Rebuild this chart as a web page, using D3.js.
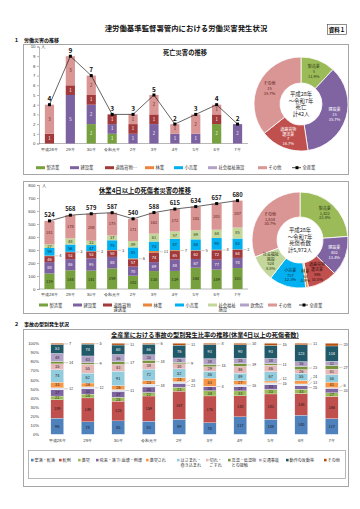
<!DOCTYPE html>
<html><head><meta charset="utf-8">
<script src="https://cdn.jsdelivr.net/npm/d3@7"></script>
<style>
html,body{margin:0;padding:0;background:#fff;}
svg{display:block;font-family:"Noto Sans CJK JP","Noto Sans",sans-serif;}
</style></head><body>
<svg id="c" width="360" height="509"></svg>
<script>
// ---------- DATA ----------
const years = ['平成28年','29年','30年','令和元年','2年','3年','4年','5年','6年','7年'];

// Chart 1: deaths by industry
const deathMfg     = [0,0,2,1,0,0,0,0,2,0];
const deathCon     = [0,5,2,1,1,2,1,1,0,2];
const deathRoad    = [1,1,1,1,1,1,0,0,1,0];
const deathOther   = [3,3,2,0,1,2,1,2,1,0];
const deathTotal   = [4,9,7,3,3,5,2,3,4,2];
const legend1 = ['製造業','建設業','道路貨物…','林業','小売業','社会福祉施設','その他'];

// Pie 1 (H28 - R7 deaths)
const pie1Names  = ['製造業','建設業','道路貨物運送業','その他'];
const pie1Values = [5,15,7,15];

// Chart 2: injuries (4+ days lost)
const injMfg     = [119,144,141,159,102,138,139,164,149,161];
const injCon     = [88,86,95,88,70,69,88,67,77,78];
const injRoad    = [46,53,53,50,57,74,65,62,72,64];
const injForest  = [4,3,2,3,6,11,7,5,4,2];
const injRetail  = [59,56,47,75,85,73,87,84,90,83];
const injWelfare = [27,48,33,37,49,61,57,69,64,85];
const injOther   = [181,178,208,175,171,162,172,183,201,207];
const injTotal   = [524,568,579,587,540,588,615,634,657,680];
const legend2 = ['製造業','建設業','道路貨物運送業','林業','小売業','社会福祉施設','飲食店','その他'];

// Pie 2
const pie2Names  = ['製造業','建設業','道路貨物運送業','林業','小売業','社会福祉施設','その他'];
const pie2Values = [1422,802,596,53,737,528,1834];

// Chart 3: accident types
const typeNames = ['墜落・転落','転倒','激突','飛来・落下','崩壊・倒壊','激突され','はさまれ・巻き込まれ','切れ・こすれ','高温・低温物との接触','交通事故','動作の反動等','その他'];
const tFall     = [96,78,85,83,89,76,117,108,140,117];
const tTrip     = [109,149,125,159,167,176,140,181,158,166];
const tCollide  = [22,24,25,22,23,34,33,33,33,27];
const tFlying   = [37,33,37,35,23,26,27,33,25,33];
const tCollapse = [12,12,11,18,10,4,15,15,13,6];
const tStruck   = [33,24,26,23,24,53,27,12,24,41];
const tCaught   = [74,62,91,72,52,46,49,67,55,56];
const tCut      = [35,55,43,38,30,29,46,46,26,41];
const tTemp     = [14,9,17,18,9,15,19,11,23,27];
const tTraffic  = [48,43,46,35,26,38,35,38,36,32];
const tMotion   = [53,74,60,66,76,93,90,93,123,114];
const tOther    = [7,5,11,6,11,8,10,15,11,20];

// ---------- STYLE ----------
const col = {mfg:'#77a03f', con:'#7d62a1', road:'#a2393b', forest:'#e9853c', retail:'#00b0f0',
  welfare1:'#b3a2c7', welfare2:'#c4d79b', food:'#b3a2c7', other:'#d99694'};
const pieCol1 = ['#9bbb59','#8064a2','#c0504d','#d99694'];
const pieCol2 = ['#9bbb59','#8064a2','#c0504d','#f79646','#00b0f0','#c3d69b','#d99694'];
const typeCol = ['#4f81bd','#c0504d','#9bbb59','#8064a2','#dce6f2','#f79646','#93cddd','#e6b9b8','#77933c','#b3a2c7','#215968','#b7520e'];

const svg = d3.select('#c');
svg.append('rect').attr('width',360).attr('height',509).attr('fill','#fff');

// Header
svg.append('text').attr('x',186).attr('y',31).attr('text-anchor','middle')
  .attr('font-size',7.4).attr('font-weight','bold').attr('fill','#111')
  .text('津労働基準監督署管内における労働災害発生状況');
svg.append('rect').attr('x',327.5).attr('y',24.5).attr('width',19).attr('height',10)
  .attr('fill','none').attr('stroke','#444').attr('stroke-width',0.6);
svg.append('text').attr('x',337).attr('y',32).attr('text-anchor','middle')
  .attr('font-size',5.5).attr('font-weight','bold').text('資料１');
svg.append('text').attr('x',14).attr('y',41.5).attr('font-size',5).attr('font-weight','bold').text('１');
svg.append('text').attr('x',24).attr('y',41.5).attr('font-size',5).attr('font-weight','bold').text('労働災害の推移');
svg.append('text').attr('x',14).attr('y',325.5).attr('font-size',5).attr('font-weight','bold').text('２');
svg.append('text').attr('x',24).attr('y',325.5).attr('font-size',5).attr('font-weight','bold').text('事故の型別発生状況');

// Panels
function panel(x,y,w,h){
  svg.append('rect').attr('x',x).attr('y',y).attr('width',w).attr('height',h)
    .attr('fill','#fff').attr('stroke','#a6a6a6').attr('stroke-width',1);
}
panel(23.5,44.5,325,130);
panel(23.5,181.5,325,132);
panel(23.5,329.5,325,157);

// ---------- CHART 1 ----------
(function(){
  const x = d3.scaleBand().domain(years).range([39,248]).paddingInner(0.56).paddingOuter(0.28);
  const y = d3.scaleLinear().domain([0,10]).range([143.5,46.5]);
  const keys = ['mfg','con','road','other'];
  const rows = years.map((yr,i)=>({yr, mfg:deathMfg[i], con:deathCon[i], road:deathRoad[i], other:deathOther[i]}));
  const stack = d3.stack().keys(keys)(rows);
  const colors = {mfg:col.mfg, con:col.con, road:col.road, other:col.other};
  const ax = svg.append('g').attr('transform','translate(39,0)')
    .call(d3.axisLeft(y).ticks(10).tickSize(2).tickPadding(1.5));
  ax.selectAll('text').attr('font-size',4.3).attr('fill','#333');
  ax.selectAll('line,path').attr('stroke','#888').attr('stroke-width',0.6);
  svg.append('text').attr('x',41).attr('y',48).attr('font-size',4.3).attr('fill','#333').text('人');
  const bx = svg.append('g').attr('transform','translate(0,143.5)').call(d3.axisBottom(x).tickSize(0).tickPadding(4));
  bx.selectAll('text').attr('font-size',4.3).attr('fill','#333');
  bx.select('.domain').attr('stroke','#888').attr('stroke-width',0.6).attr('d','M39,0H248');
  stack.forEach(s=>{
    const g = svg.append('g');
    s.forEach((d,i)=>{
      const v = d[1]-d[0]; if(!v) return;
      g.append('rect').attr('x',x(years[i])).attr('width',x.bandwidth())
        .attr('y',y(d[1])).attr('height',y(d[0])-y(d[1])).attr('fill',colors[s.key]);
      g.append('text').attr('x',x(years[i])+x.bandwidth()/2).attr('y',(y(d[0])+y(d[1]))/2+1.5)
        .attr('text-anchor','middle').attr('font-size',4.3)
        .attr('fill', s.key==='other' ? '#5b1c1c' : '#fff').text(v);
    });
  });
  const cx = i => x(years[i])+x.bandwidth()/2;
  svg.append('path').attr('d', d3.line().x((d,i)=>cx(i)).y(d=>y(d))(deathTotal))
    .attr('fill','none').attr('stroke','#222').attr('stroke-width',0.7);
  deathTotal.forEach((v,i)=>{
    svg.append('rect').attr('x',cx(i)-1.5).attr('y',y(v)-1.5).attr('width',3).attr('height',3).attr('fill','#000');
    svg.append('text').attr('x',cx(i)).attr('y',y(v)-3.5).attr('text-anchor','middle')
      .attr('font-size',6.5).attr('font-weight','bold').attr('fill','#111').text(v);
  });
  svg.append('text').attr('x',185).attr('y',55).attr('text-anchor','middle')
    .attr('font-size',6.3).attr('font-weight','bold').attr('fill','#111').text('死亡災害の推移');
  // legend
  const lx = [36,70,105,145,174,208,258];
  const lc = [col.mfg,col.con,col.road,col.forest,col.retail,col.welfare1,col.other];
  legend1.forEach((n,i)=>{
    svg.append('rect').attr('x',lx[i]).attr('y',166.2).attr('width',9).attr('height',3).attr('fill',lc[i]);
    svg.append('text').attr('x',lx[i]+10.5).attr('y',169.3).attr('font-size',4.3).attr('fill','#333').text(n);
  });
  svg.append('line').attr('x1',292).attr('x2',301).attr('y1',167.7).attr('y2',167.7).attr('stroke','#000').attr('stroke-width',0.7);
  svg.append('rect').attr('x',295.5).attr('y',166.2).attr('width',3).attr('height',3).attr('fill','#000');
  svg.append('text').attr('x',302.5).attr('y',169.3).attr('font-size',4.3).attr('fill','#333').text('全産業');
})();

// ---------- PIES ----------
function drawPie(cx,cy,r0,r1,names,values,colors,textCols,center,fmtV){
  const total = d3.sum(values);
  const arcs = d3.pie().sort(null).value(d=>d)(values);
  const arc = d3.arc().innerRadius(r0).outerRadius(r1);
  const lab = d3.arc().innerRadius((r0+r1)/2+1).outerRadius((r0+r1)/2+1);
  const g = svg.append('g').attr('transform',`translate(${cx},${cy})`);
  g.selectAll('path').data(arcs).join('path').attr('d',arc)
    .attr('fill',(d,i)=>colors[i]).attr('stroke','#fff').attr('stroke-width',0.8);
  const split = {'道路貨物運送業':['道路貨物','運送業'],'社会福祉施設':['社会福祉','施設']};
  arcs.forEach((a,i)=>{
    const [px,py] = lab.centroid(a);
    const lines = (split[names[i]]||[names[i]]).concat([fmtV(values[i]), d3.format('.1%')(values[i]/total)]);
    const t = g.append('text').attr('text-anchor','middle').attr('font-size',4).attr('fill',textCols[i]);
    lines.forEach((l,k)=>t.append('tspan').attr('x',px).attr('y',py+(k-(lines.length-1)/2)*4.8+1.4).text(l));
  });
  const t = g.append('text').attr('text-anchor','middle').attr('font-size',5.4).attr('fill','#222');
  center.forEach((l,k)=>t.append('tspan').attr('x',0).attr('y',(k-(center.length-1)/2)*6.6+2).text(l));
}
drawPie(301,104,21,47,pie1Names,pie1Values,pieCol1,['#2b3a12','#fff','#fff','#5b1c1c'],
  ['平成28年','～令和7年','死亡','計42人'], d=>d);
drawPie(300,240,23,48,pie2Names,pie2Values,pieCol2,['#2b3a12','#fff','#3a0f0f','#3a1f00','#0b2a40','#2b3a12','#5b1c1c'],
  ['平成28年','～令和7年','死傷者数','計5,972人'], d3.format(','));

// ---------- CHART 2 ----------
(function(){
  const x = d3.scaleBand().domain(years).range([39,248]).paddingInner(0.52).paddingOuter(0.26);
  const y = d3.scaleLinear().domain([0,800]).range([289,185]);
  const keys = ['mfg','con','road','forest','retail','welfare','other'];
  const src = {mfg:injMfg,con:injCon,road:injRoad,forest:injForest,retail:injRetail,welfare:injWelfare,other:injOther};
  const colors = {mfg:col.mfg,con:col.con,road:col.road,forest:col.forest,retail:col.retail,welfare:col.welfare2,other:col.other};
  const txt = {mfg:'#1e2a0c',con:'#fff',road:'#fff',retail:'#0b2a40',welfare:'#2b3a12',other:'#5b1c1c'};
  const rows = years.map((yr,i)=>{const o={yr}; keys.forEach(k=>o[k]=src[k][i]); return o;});
  const stack = d3.stack().keys(keys)(rows);
  const ax = svg.append('g').attr('transform','translate(39,0)')
    .call(d3.axisLeft(y).ticks(8).tickSize(2).tickPadding(1.5));
  ax.selectAll('text').attr('font-size',4.3).attr('fill','#333');
  ax.selectAll('line,path').attr('stroke','#888').attr('stroke-width',0.6);
  svg.append('text').attr('x',42).attr('y',186.5).attr('font-size',4.3).attr('fill','#333').text('人');
  const bx = svg.append('g').attr('transform','translate(0,289)').call(d3.axisBottom(x).tickSize(0).tickPadding(4));
  bx.selectAll('text').attr('font-size',4.3).attr('fill','#333');
  bx.select('.domain').attr('stroke','#888').attr('stroke-width',0.6).attr('d','M39,0H248');
  stack.forEach(s=>{
    s.forEach((d,i)=>{
      const v = d[1]-d[0];
      const x0 = x(years[i]), w = x.bandwidth();
      svg.append('rect').attr('x',x0).attr('width',w).attr('y',y(d[1])).attr('height',y(d[0])-y(d[1])).attr('fill',colors[s.key]);
      const my = (y(d[0])+y(d[1]))/2;
      if(s.key==='forest'){
        svg.append('line').attr('x1',x0+w+0.5).attr('x2',x0+w+4).attr('y1',my).attr('y2',my).attr('stroke','#888').attr('stroke-width',0.4);
        svg.append('text').attr('x',x0+w+4.8).attr('y',my+1.4).attr('font-size',4).attr('fill','#333').text(v);
      } else {
        svg.append('text').attr('x',x0+w/2).attr('y',my+1.4).attr('text-anchor','middle').attr('font-size',4).attr('fill',txt[s.key]).text(v);
      }
    });
  });
  const cx = i => x(years[i])+x.bandwidth()/2;
  svg.append('path').attr('d', d3.line().x((d,i)=>cx(i)).y(d=>y(d))(injTotal))
    .attr('fill','none').attr('stroke','#222').attr('stroke-width',0.7);
  injTotal.forEach((v,i)=>{
    svg.append('rect').attr('x',cx(i)-1.5).attr('y',y(v)-1.5).attr('width',3).attr('height',3).attr('fill','#000');
    svg.append('text').attr('x',cx(i)).attr('y',y(v)-4).attr('text-anchor','middle')
      .attr('font-size',5.8).attr('font-weight','bold').attr('fill','#111').text(v);
  });
  svg.append('text').attr('x',145).attr('y',193).attr('text-anchor','middle')
    .attr('font-size',6.3).attr('font-weight','bold').attr('fill','#111').attr('text-decoration','underline')
    .text('休業4日以上の死傷者災害の推移');
  // legend
  const lx = [39,73,103,143,175,208,240,268];
  const lc = [col.mfg,col.con,col.road,col.forest,col.retail,col.welfare2,col.food,col.other];
  const split = {'道路貨物運送業':['道路貨物','運送業'],'社会福祉施設':['社会福祉','施設']};
  legend2.forEach((n,i)=>{
    svg.append('rect').attr('x',lx[i]).attr('y',303.5).attr('width',9).attr('height',3).attr('fill',lc[i]);
    const t = svg.append('text').attr('font-size',4.3).attr('fill','#333');
    (split[n]||[n]).forEach((l,k)=>t.append('tspan').attr('x',lx[i]+10.5).attr('y',306.6+k*4.8).text(l));
  });
  svg.append('line').attr('x1',299).attr('x2',308).attr('y1',305).attr('y2',305).attr('stroke','#000').attr('stroke-width',0.7);
  svg.append('rect').attr('x',302.5).attr('y',303.5).attr('width',3).attr('height',3).attr('fill','#000');
  svg.append('text').attr('x',309.5).attr('y',306.6).attr('font-size',4.3).attr('fill','#333').text('全産業');
})();

// ---------- CHART 3 ----------
(function(){
  const series = [tFall,tTrip,tCollide,tFlying,tCollapse,tStruck,tCaught,tCut,tTemp,tTraffic,tMotion,tOther];
  const x = d3.scaleBand().domain(years).range([42,347]).paddingInner(0.58).paddingOuter(0.29);
  const y = d3.scaleLinear().domain([0,1]).range([434.3,343.3]);
  const rows = years.map((yr,i)=>{const o={yr}; typeNames.forEach((n,k)=>o[n]=series[k][i]); return o;});
  const stack = d3.stack().keys(typeNames).offset(d3.stackOffsetExpand)(rows);
  const ax = svg.append('g').attr('transform','translate(40,0)')
    .call(d3.axisLeft(y).tickValues(d3.range(0,1.01,0.1)).tickFormat(d3.format('.0%')).tickSize(0).tickPadding(1));
  ax.selectAll('text').attr('font-size',4.2).attr('fill','#333');
  ax.select('.domain').remove();
  const bx = svg.append('g').attr('transform','translate(0,434.3)').call(d3.axisBottom(x).tickSize(0).tickPadding(4.5));
  bx.selectAll('text').attr('font-size',4.3).attr('fill','#333');
  bx.select('.domain').remove();
  const leaderKeys = ['崩壊・倒壊','高温・低温物との接触','その他'];
  const txtCol = k => (k==='動作の反動等') ? '#fff' : '#1a1a1a';
  stack.forEach((s,si)=>{
    s.forEach((d,i)=>{
      svg.append('rect').attr('x',x(years[i])).attr('width',x.bandwidth()).attr('y',y(d[1])).attr('height',y(d[0])-y(d[1]))
        .attr('fill',typeCol[si]).attr('stroke','#fff').attr('stroke-width',0.25);
    });
  });
  years.forEach((yr,i)=>{
    const x0 = x(yr), w = x.bandwidth();
    let lastIn = Infinity, lastLead = Infinity;
    stack.forEach((s,si)=>{
      const d = s[i], v = series[si][i];
      const h = y(d[0])-y(d[1]);
      const my = (y(d[0])+y(d[1]))/2;
      const lead = leaderKeys.includes(s.key) || h < 3.3 || (lastIn - my) < 4.1;
      if(lead){
        const ty = Math.min(my, lastLead - 5.2);
        svg.append('line').attr('x1',x0+w+0.5).attr('x2',x0+w+4.5).attr('y1',my).attr('y2',ty).attr('stroke','#888').attr('stroke-width',0.4);
        svg.append('text').attr('x',x0+w+5.3).attr('y',ty+1.4).attr('font-size',3.9).attr('fill','#333').text(v);
        lastLead = ty;
      } else {
        svg.append('text').attr('x',x0+w/2).attr('y',my+1.4).attr('text-anchor','middle').attr('font-size',3.9).attr('fill',txtCol(s.key)).text(v);
        lastIn = my;
      }
    });
  });
  svg.append('text').attr('x',205).attr('y',337).attr('text-anchor','middle')
    .attr('font-size',6.2).attr('font-weight','bold').attr('fill','#111').attr('text-decoration','underline')
    .text('全産業における事故の型別発生比率の推移(休業4日以上の死傷者数)');
  svg.append('rect').attr('x',28.5).attr('y',450.5).attr('width',317).attr('height',28)
    .attr('fill','none').attr('stroke','#a6a6a6').attr('stroke-width',0.8);
  const lx = [31,59,78,96,118,146,177,206,228,259,286,324];
  const split = {'はさまれ・巻き込まれ':['はさまれ・','巻き込まれ'],'切れ・こすれ':['切れ・','こすれ'],'高温・低温物との接触':['高温・低温物','との接触']};
  typeNames.forEach((n,i)=>{
    svg.append('rect').attr('x',lx[i]).attr('y',458.8).attr('width',2.6).attr('height',2.6).attr('fill',typeCol[i]==='#dce6f2'?'#c5d4e8':typeCol[i]);
    const t = svg.append('text').attr('font-size',4.1).attr('fill','#333');
    (split[n]||[n]).forEach((l,k)=>t.append('tspan').attr('x',lx[i]+3.6).attr('y',461.7+k*5.4).text(l));
  });
})();
</script>
</body></html>
